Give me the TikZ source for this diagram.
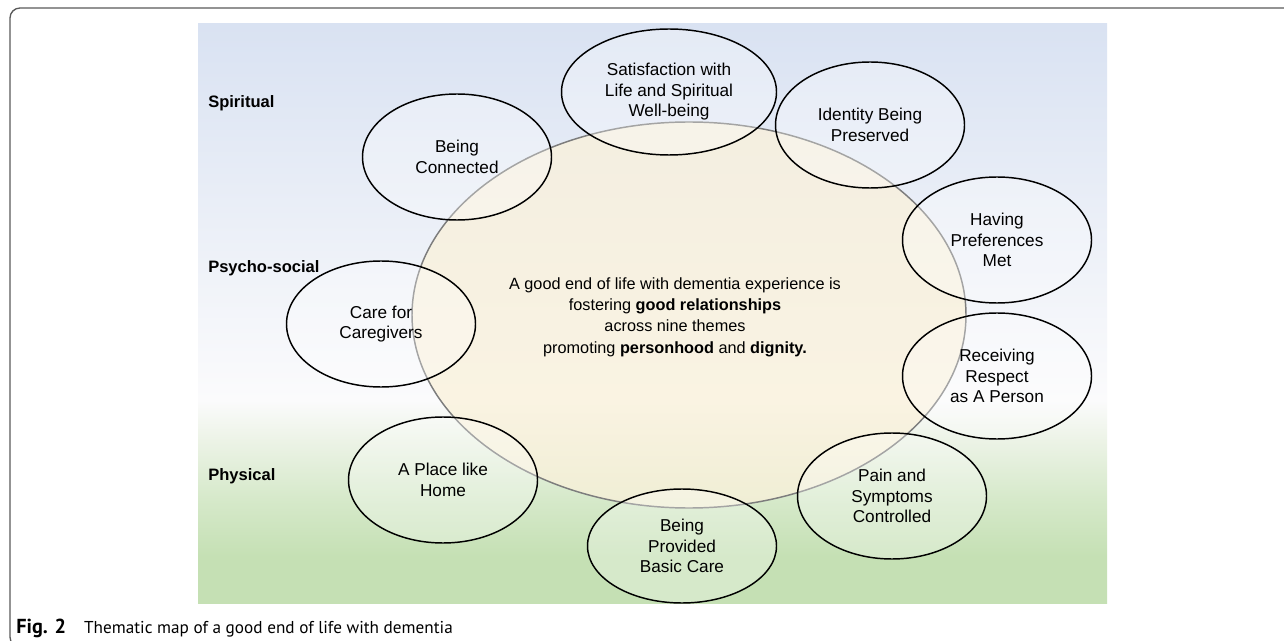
\documentclass[tikz,border=0pt]{standalone}
\usepackage{fontspec}
\setmainfont{Liberation Sans}
\newfontfamily\captionfont{PT Sans}
\usetikzlibrary{shapes.geometric}

\definecolor{skyblue}{RGB}{217,226,242}
\definecolor{mistwhite}{RGB}{251,251,252}
\definecolor{palegreen}{RGB}{236,243,230}
\definecolor{midgreen}{RGB}{214,233,202}
\definecolor{leafgreen}{RGB}{197,224,180}
\definecolor{cream}{RGB}{250,241,218}
\definecolor{rimgray}{RGB}{125,125,125}
\definecolor{framegray}{RGB}{90,90,90}

% background bands, bottom (green) to top (blue)
\pgfdeclareverticalshading{layers}{100bp}{
  color(0bp)=(leafgreen); color(29bp)=(leafgreen); color(34bp)=(midgreen);
  color(39bp)=(palegreen); color(42.5bp)=(mistwhite); color(75bp)=(skyblue);
  color(100bp)=(skyblue)}

\tikzset{
  theme/.style={ellipse, draw=black, line width=1.1pt, fill=white,
    fill opacity=0.3, text opacity=1, inner sep=0pt, align=center,
    minimum width=141.75pt, minimum height=94.5pt,
    font=\fontsize{12.9}{15.4}\selectfont},
  layer/.style={anchor=west, inner sep=0pt, font=\bfseries\fontsize{12.4}{14}\selectfont},
  core/.style={ellipse, draw=rimgray, line width=1.1pt, fill=cream,
    fill opacity=0.75, inner sep=0pt, minimum width=415.5pt, minimum height=289.5pt}
}

\begin{document}
\begin{tikzpicture}[x=0.75pt, y=-0.75pt]
    \useasboundingbox (0,0) rectangle (1284,641);
    \clip (0,0) rectangle (1284,641);
    \fill[white] (0,0) rectangle (1284,641);

    % Background
    \shade[shading=layers] (198,24) rectangle (1107,603);

    % Central theme
    \node[core] (core) at (689,315) {};
    \node[align=center, font=\fontsize{12.2}{16}\selectfont] (message) at (675,317)
        {A good end of life with dementia experience is\\
         fostering \textbf{good relationships}\\
         across nine themes\\
         promoting \textbf{personhood} and \textbf{dignity.}};

    % Nine themes
    \node[theme, minimum width=161.25pt] (satisfaction) at (669,92) {Satisfaction with\\Life and Spiritual\\Well-being};
    \node[theme] (identity) at (870,125) {Identity Being\\Preserved};
    \node[theme] (preferences) at (997,240) {Having\\Preferences\\Met};
    \node[theme] (respect) at (997,376) {Receiving\\Respect\\as A Person};
    \node[theme] (pain) at (892,496) {Pain and\\Symptoms\\Controlled};
    \node[theme, minimum height=85.5pt] (basiccare) at (682,546) {Being\\Provided\\Basic Care};
    \node[theme] (home) at (443,480) {A Place like\\Home};
    \node[theme] (caregivers) at (381,324) {Care for\\Caregivers};
    \node[theme] (connected) at (457,157) {Being\\Connected};

    % Levels
    \node[layer] (spiritual) at (208,103) {Spiritual};
    \node[layer] (psychosocial) at (208,268) {Psycho-social};
    \node[layer] (physical) at (208,476) {Physical};

    % Caption and frame
    \node[anchor=base west, inner sep=0pt, font=\captionfont\fontsize{12.9}{15}\selectfont] (caption) at (16,633)
        {{\bfseries\fontsize{15.2}{16}\selectfont Fig.\,\,2}\hspace{1.05em}Thematic map of a good end of life with dementia};
    \draw[framegray, line width=1pt, rounded corners=7.5pt] (10,8) rectangle (1300,647);
\end{tikzpicture}
\end{document}
